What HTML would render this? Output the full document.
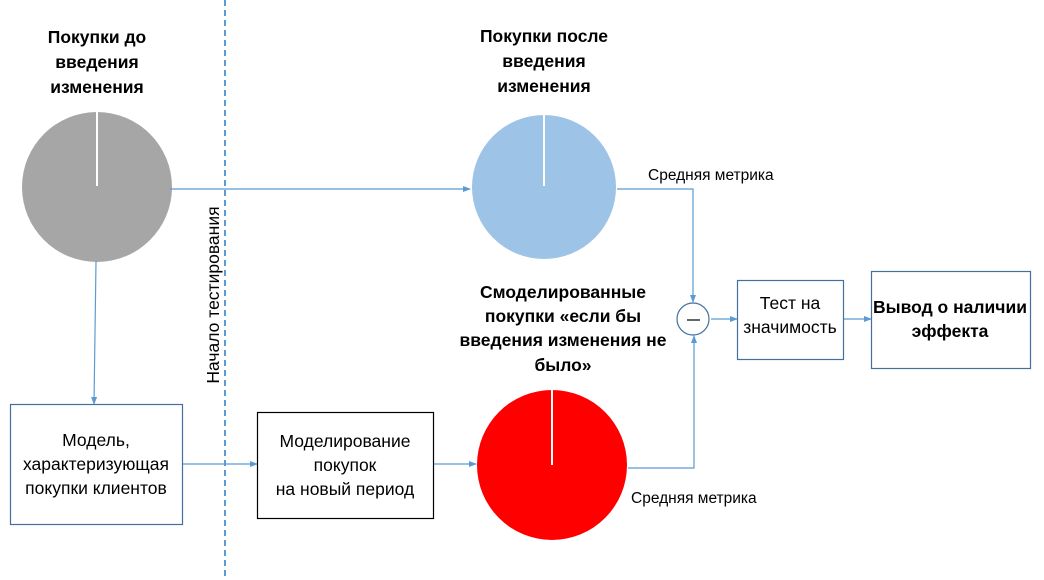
<!DOCTYPE html>
<html><head><meta charset="utf-8"><style>
body{margin:0;background:#fff}
svg{display:block;font-family:"Liberation Sans","DejaVu Sans",sans-serif}
</style></head><body>
<svg width="1044" height="580" viewBox="0 0 1044 580" xmlns="http://www.w3.org/2000/svg">
<defs><marker id="a" markerWidth="8" markerHeight="8" refX="7" refY="4" orient="auto" markerUnits="userSpaceOnUse"><path d="M0,1 L8,4 L0,7z" fill="#5b9bd5"/></marker></defs>
<line x1="225" y1="0" x2="225" y2="580" stroke="#5b9bd5" stroke-width="2" stroke-dasharray="6,4"/>
<circle cx="97" cy="187" r="75" fill="#a6a6a6"/>
<line x1="97" y1="112" x2="97" y2="186" stroke="#fff" stroke-width="2"/>
<circle cx="544" cy="187" r="72" fill="#9dc3e6"/>
<line x1="544" y1="115" x2="544" y2="186" stroke="#fff" stroke-width="2"/>
<circle cx="552" cy="465" r="75" fill="#ff0000"/>
<line x1="552" y1="390" x2="552" y2="465" stroke="#fff" stroke-width="2"/>
<g stroke="#5b9bd5" stroke-width="1.2" fill="none">
<line x1="170" y1="189" x2="470" y2="189" marker-end="url(#a)"/>
<line x1="96" y1="261" x2="94" y2="404" marker-end="url(#a)"/>
<line x1="183" y1="464" x2="257" y2="464" marker-end="url(#a)"/>
<line x1="433" y1="464" x2="476" y2="464" marker-end="url(#a)"/>
<polyline points="617,189 693,189 693,302" marker-end="url(#a)"/>
<polyline points="628,468 694,468 694,336" marker-end="url(#a)"/>
<line x1="711" y1="319" x2="737" y2="319" marker-end="url(#a)"/>
<line x1="843" y1="319" x2="871" y2="319" marker-end="url(#a)"/>
</g>
<circle cx="693" cy="319" r="16" fill="#fff" stroke="#41719c" stroke-width="1.2"/>
<line x1="687" y1="320" x2="700" y2="320" stroke="#000" stroke-width="1.2"/>
<rect x="10.5" y="404.5" width="172" height="120" fill="#fff" stroke="#41719c" stroke-width="1.2"/>
<rect x="257.5" y="412.5" width="176" height="106" fill="#fff" stroke="#000" stroke-width="1.2"/>
<rect x="737.5" y="280.5" width="106" height="79" fill="#fff" stroke="#41719c" stroke-width="1.2"/>
<rect x="871.5" y="271.5" width="159" height="97" fill="#fff" stroke="#41719c" stroke-width="1.2"/>
<g font-size="17.5" font-weight="bold" text-anchor="middle" fill="#000">
<text x="97" y="43">Покупки до</text><text x="97" y="68">введения</text><text x="97" y="93">изменения</text>
<text x="544" y="42">Покупки после</text><text x="544" y="67">введения</text><text x="544" y="92">изменения</text>
<text x="563" y="298">Смоделированные</text><text x="563" y="322">покупки  «если бы</text><text x="563" y="346">введения изменения не</text><text x="563" y="371">было»</text>
<text x="950" y="313">Вывод о наличии</text><text x="950" y="337">эффекта</text>
</g>
<g font-size="17.5" text-anchor="middle" fill="#000">
<text x="96" y="446">Модель,</text><text x="96" y="470">характеризующая</text><text x="96" y="494">покупки клиентов</text>
<text x="345" y="447">Моделирование</text><text x="345" y="471">покупок</text><text x="345" y="495">на новый период</text>
<text x="790" y="309">Тест на</text><text x="790" y="333">значимость</text>
<text transform="translate(219,295) rotate(-90)">Начало тестирования</text>
</g>
<g font-size="15.5" fill="#000">
<text x="648" y="180">Средняя метрика</text>
<text x="631" y="503">Средняя метрика</text>
</g>
</svg>
</body></html>
